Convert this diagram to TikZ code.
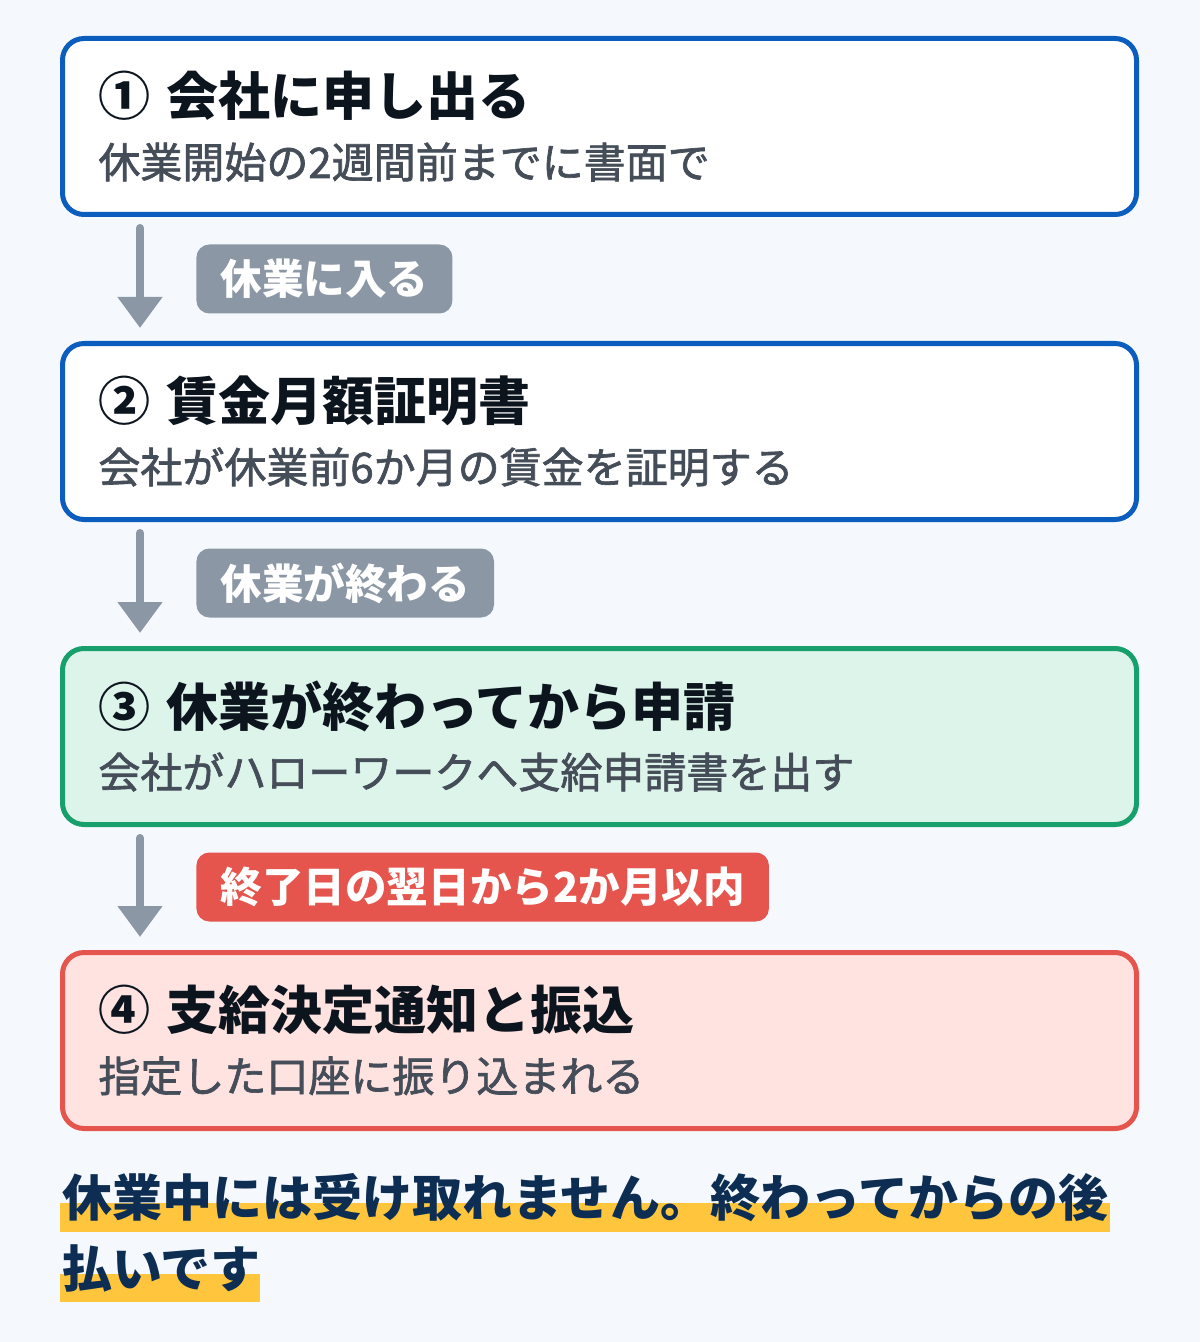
\documentclass[tikz,border=0pt]{standalone}
\usepackage{fontspec}
\usepackage{tikz}
\usetikzlibrary{arrows.meta}
\newfontfamily\jp{Noto Sans CJK JP}
\newfontfamily\jpm[FakeBold=1.6]{Noto Sans CJK JP}
\definecolor{bg}{HTML}{F5F9FE}
\definecolor{myblue}{HTML}{0B5EBE}
\definecolor{mygreen}{HTML}{17A06C}
\definecolor{mygreenbg}{HTML}{DDF4EA}
\definecolor{myred}{HTML}{E5554D}
\definecolor{myredbg}{HTML}{FFE3E1}
\definecolor{tagray}{HTML}{8C97A5}
\definecolor{ink}{HTML}{0C141E}
\definecolor{subgray}{HTML}{454D58}
\definecolor{navy}{HTML}{0D2D52}
\definecolor{marker}{HTML}{FFC63D}
\tikzset{
    box/.style={rectangle, rounded corners=10.75pt, line width=2.5pt, minimum width=537pt, minimum height=88pt},
    plain/.style={draw=myblue, fill=white},
    done/.style={draw=mygreen, fill=mygreenbg},
    paid/.style={draw=myred, fill=myredbg},
    ttl/.style={anchor=west, inner sep=0pt, text=ink, font=\jp\bfseries\fontsize{26}{31}\selectfont},
    sub/.style={anchor=west, inner sep=0pt, text=subgray, font=\jpm\fontsize{21}{25}\selectfont},
    tag/.style={anchor=west, rounded corners=6.5pt, inner xsep=12pt, inner ysep=0pt, minimum height=34.5pt, text=white, font=\jp\bfseries\fontsize{20.8}{24}\selectfont},
    flow/.style={draw=tagray, line width=4pt, line cap=round, -{Triangle[width=21.5pt,length=15.5pt]}},
    note/.style={anchor=west, inner sep=0pt, text=navy, font=\jp\bfseries\fontsize{25}{30}\selectfont}
}
\begin{document}
\begin{tikzpicture}[x=0.5pt, y=-0.5pt]
\fill[bg] (0,0) rectangle (1200,1342);
\useasboundingbox (0,0) rectangle (1200,1342);

\node[box,plain] at (599.5,126.5) (s1) {};
\node[ttl] at (98,96) (t1) {①\hspace{0.3em}会社に申し出る};
\node[sub] at (98,162) (d1) {休業開始の2週間前までに書面で};

\node[box,plain] at (599.5,431.5) (s2) {};
\node[ttl] at (98,401) (t2) {②\hspace{0.3em}賃金月額証明書};
\node[sub] at (98,467) (d2) {会社が休業前6か月の賃金を証明する};

\node[box,done] at (599.5,736.5) (s3) {};
\node[ttl] at (98,706) (t3) {③\hspace{0.3em}休業が終わってから申請};
\node[sub] at (98,772) (d3) {会社がハローワークへ支給申請書を出す};

\node[box,paid] at (599.5,1040.5) (s4) {};
\node[ttl] at (98,1010) (t4) {④\hspace{0.3em}支給決定通知と振込};
\node[sub] at (98,1076) (d4) {指定した口座に振り込まれる};

\draw[flow] ([xshift=40pt,yshift=-5.5pt]s1.south west) -- ([xshift=40pt,yshift=6.5pt]s2.north west);
\node[tag,fill=tagray] at (196,279) (g1) {休業に入る};

\draw[flow] ([xshift=40pt,yshift=-5.5pt]s2.south west) -- ([xshift=40pt,yshift=6.5pt]s3.north west);
\node[tag,fill=tagray] at (196,583) (g2) {休業が終わる};

\draw[flow] ([xshift=40pt,yshift=-5.5pt]s3.south west) -- ([xshift=40pt,yshift=6.5pt]s4.north west);
\node[tag,fill=myred] at (196,887) (g3) {終了日の翌日から2か月以内};

% highlighted note
\fill[marker] (60,1203) rectangle (1110,1232);
\fill[marker] (60,1274) rectangle (260,1302);
\node[note] at (62,1198) (n1) {休業中には受け取れません。終わってからの後};
\node[note] at (62,1268) (n2) {払いです};
\end{tikzpicture}
\end{document}
